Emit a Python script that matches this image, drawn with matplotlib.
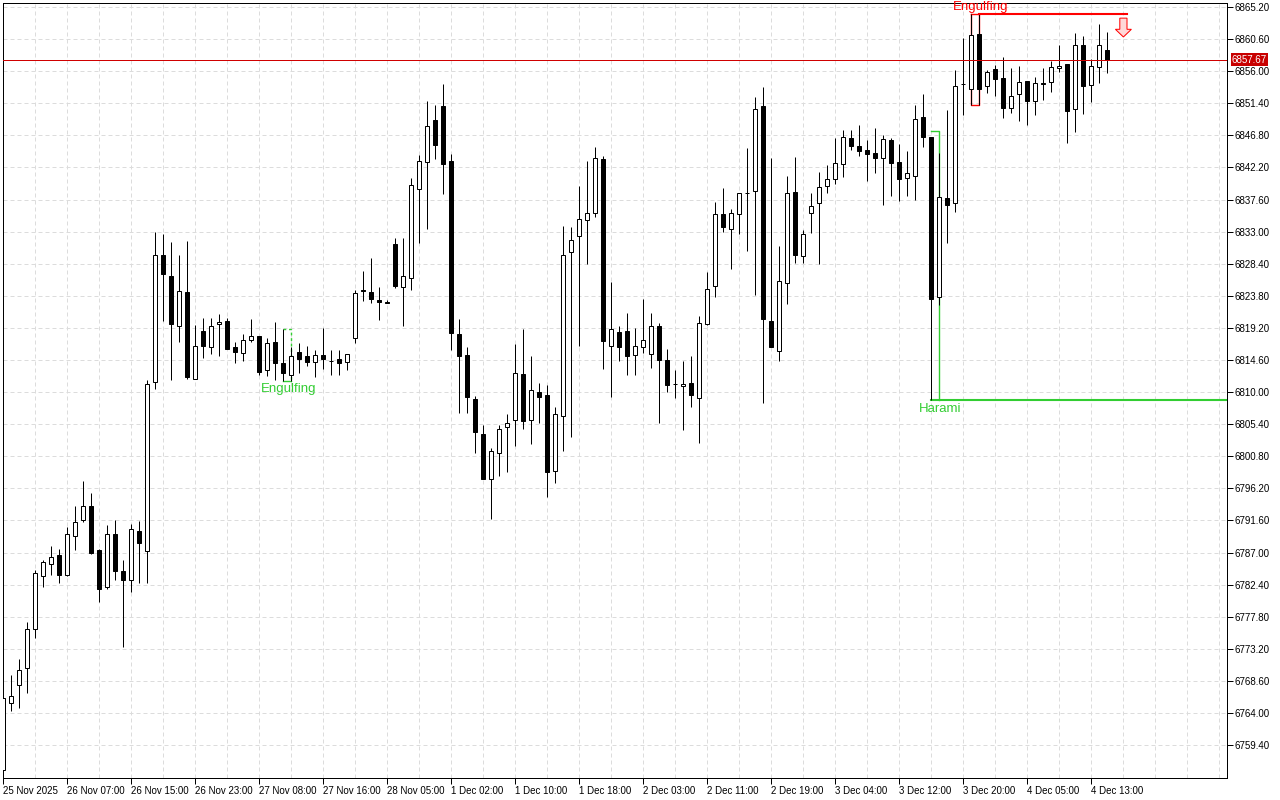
import numpy as np
import matplotlib
matplotlib.use('Agg')
import matplotlib.pyplot as plt
from matplotlib.patches import Polygon
from matplotlib.transforms import blended_transform_factory

plt.rcParams['font.family'] = ['Liberation Sans', 'DejaVu Sans']

# hourly OHLC, one value per bar
opens = [6755.8, 6765.4, 6768.0, 6770.4, 6776.0, 6783.7, 6785.4, 6786.7, 6783.8, 6789.4,
         6791.6, 6793.6, 6787.4, 6782.0, 6789.7, 6784.4, 6783.0, 6790.1, 6787.2, 6811.5,
         6829.7, 6826.6, 6819.4, 6824.3, 6811.9, 6818.8, 6816.5, 6819.8, 6820.2, 6816.5,
         6815.6, 6817.5, 6818.1, 6813.1, 6817.2, 6814.2, 6812.5, 6815.8, 6815.1, 6814.3,
         6815.3, 6814.5, 6814.8, 6814.3, 6817.8, 6824.6, 6824.4, 6823.2, 6822.9, 6831.2,
         6825.1, 6826.4, 6839.1, 6843.0, 6849.0, 6851.0, 6843.1, 6818.3, 6815.3, 6809.0,
         6804.0, 6797.6, 6801.3, 6805.0, 6806.0, 6812.6, 6806.0, 6810.0, 6809.6, 6798.7,
         6806.6, 6830.1, 6832.4, 6834.7, 6835.7, 6843.4, 6816.6, 6818.6, 6818.8, 6815.3,
         6816.5, 6815.5, 6819.4, 6814.6, 6811.2, 6810.9, 6811.3, 6809.2, 6819.8, 6825.2,
         6835.5, 6833.4, 6835.5, 6838.5, 6838.8, 6851.0, 6820.2, 6815.9, 6825.6, 6838.7,
         6829.5, 6835.7, 6837.1, 6839.5, 6840.5, 6842.7, 6846.4, 6845.3, 6844.7, 6844.3,
         6843.5, 6846.1, 6843.0, 6840.7, 6841.0, 6849.4, 6846.6, 6823.6, 6837.8, 6837.1,
         6854.2, 6853.4, 6861.3, 6853.9, 6856.3, 6855.0, 6850.7, 6852.7, 6854.6, 6851.7,
         6854.3, 6854.4, 6856.4, 6857.0, 6850.6, 6859.7, 6854.0, 6856.6, 6859.0]
highs = [6766.5, 6769.4, 6771.8, 6777.1, 6784.5, 6785.9, 6787.9, 6787.5, 6790.6, 6793.6,
         6797.2, 6795.5, 6787.5, 6790.9, 6791.6, 6785.9, 6791.1, 6791.5, 6811.8, 6833.0,
         6832.6, 6831.5, 6829.7, 6831.7, 6819.6, 6820.6, 6820.6, 6821.2, 6820.6, 6817.2,
         6818.3, 6820.5, 6818.1, 6817.8, 6820.1, 6819.1, 6816.5, 6817.1, 6816.6, 6816.1,
         6819.2, 6816.1, 6816.1, 6815.5, 6824.6, 6827.4, 6829.2, 6825.1, 6823.2, 6832.1,
         6832.1, 6840.7, 6844.0, 6851.7, 6851.1, 6854.1, 6844.1, 6820.5, 6816.5, 6809.5,
         6805.3, 6802.0, 6805.3, 6806.9, 6816.9, 6819.1, 6815.2, 6811.3, 6811.0, 6807.8,
         6833.8, 6833.7, 6839.5, 6843.1, 6845.1, 6843.8, 6825.8, 6819.5, 6821.4, 6819.2,
         6823.4, 6821.4, 6819.9, 6816.2, 6813.2, 6814.5, 6815.2, 6820.9, 6827.2, 6837.2,
         6839.2, 6836.2, 6838.6, 6845.0, 6852.3, 6853.7, 6843.5, 6830.9, 6841.0, 6843.7,
         6833.2, 6838.5, 6841.5, 6842.5, 6846.4, 6847.6, 6847.6, 6848.3, 6846.1, 6847.8,
         6846.8, 6846.4, 6845.5, 6844.5, 6851.1, 6852.7, 6846.6, 6844.3, 6850.4, 6856.1,
         6860.7, 6864.2, 6864.2, 6856.1, 6856.9, 6858.0, 6856.4, 6856.7, 6854.6, 6855.1,
         6856.4, 6857.4, 6859.7, 6857.0, 6861.4, 6861.0, 6857.7, 6862.7, 6861.6]
lows = [6755.3, 6764.3, 6764.7, 6766.8, 6774.7, 6782.1, 6783.8, 6782.6, 6783.7, 6787.4,
        6791.4, 6786.8, 6779.9, 6781.7, 6783.1, 6773.5, 6781.4, 6782.7, 6782.6, 6810.4,
        6820.2, 6811.7, 6817.2, 6811.9, 6811.9, 6814.9, 6815.5, 6815.1, 6816.2, 6814.1,
        6814.5, 6817.2, 6812.5, 6812.3, 6811.8, 6811.6, 6811.6, 6812.8, 6813.8, 6812.1,
        6813.3, 6812.5, 6812.5, 6813.2, 6817.1, 6823.1, 6822.8, 6820.4, 6822.8, 6824.9,
        6819.5, 6824.6, 6831.4, 6833.4, 6843.4, 6838.4, 6816.1, 6807.0, 6807.0, 6801.3,
        6797.5, 6791.8, 6798.0, 6798.6, 6802.3, 6804.7, 6802.5, 6805.6, 6794.9, 6796.9,
        6801.6, 6803.6, 6816.6, 6828.4, 6835.1, 6813.3, 6809.3, 6814.5, 6812.5, 6812.5,
        6815.6, 6813.5, 6805.6, 6810.0, 6809.2, 6804.6, 6807.9, 6802.7, 6819.6, 6823.6,
        6833.0, 6827.7, 6832.7, 6830.2, 6823.9, 6808.5, 6816.5, 6814.5, 6822.6, 6828.5,
        6828.5, 6832.8, 6828.4, 6838.5, 6839.8, 6840.9, 6844.7, 6843.8, 6840.3, 6841.4,
        6836.8, 6838.1, 6837.4, 6838.1, 6837.5, 6845.1, 6808.8, 6822.5, 6831.4, 6835.8,
        6849.7, 6851.1, 6851.1, 6852.9, 6852.4, 6849.3, 6850.0, 6848.8, 6848.3, 6849.7,
        6851.9, 6853.0, 6855.9, 6845.7, 6847.3, 6849.8, 6851.6, 6854.3, 6855.7]
closes = [6766.2, 6766.4, 6770.2, 6776.1, 6784.1, 6785.7, 6786.4, 6783.8, 6789.6, 6791.4,
          6793.7, 6786.9, 6781.7, 6789.7, 6784.4, 6783.1, 6790.4, 6788.4, 6811.2, 6829.6,
          6826.9, 6819.8, 6824.5, 6812.2, 6816.6, 6816.6, 6819.5, 6820.1, 6816.2, 6815.8,
          6817.5, 6818.1, 6812.9, 6817.1, 6814.2, 6812.8, 6815.1, 6814.8, 6814.3, 6815.3,
          6814.8, 6814.5, 6814.2, 6815.5, 6824.2, 6824.5, 6823.4, 6822.9, 6822.8, 6825.2,
          6826.6, 6839.7, 6843.1, 6848.1, 6845.4, 6842.7, 6818.5, 6815.1, 6809.3, 6804.3,
          6797.6, 6801.6, 6804.7, 6805.6, 6812.8, 6805.9, 6810.3, 6809.3, 6798.6, 6806.9,
          6829.6, 6831.8, 6834.8, 6835.7, 6843.5, 6817.3, 6819.1, 6816.5, 6815.2, 6816.6,
          6817.5, 6819.4, 6814.6, 6811.0, 6811.2, 6811.2, 6809.6, 6819.9, 6824.8, 6835.5,
          6833.7, 6835.7, 6838.6, 6838.5, 6850.6, 6820.5, 6816.5, 6825.9, 6838.5, 6829.7,
          6832.7, 6836.7, 6839.4, 6840.5, 6842.8, 6846.6, 6845.3, 6844.5, 6844.1, 6843.5,
          6846.3, 6842.8, 6840.5, 6841.4, 6849.1, 6846.6, 6823.4, 6838.0, 6836.8, 6853.9,
          6854.1, 6861.2, 6853.4, 6855.9, 6854.9, 6850.7, 6852.4, 6854.4, 6851.7, 6854.3,
          6854.2, 6856.6, 6856.7, 6850.3, 6859.7, 6853.9, 6856.7, 6859.7, 6857.67]

time_labels = ['25 Nov 2025', '26 Nov 07:00', '26 Nov 15:00', '26 Nov 23:00', '27 Nov 08:00',
               '27 Nov 16:00', '28 Nov 05:00', '1 Dec 02:00', '1 Dec 10:00', '1 Dec 18:00',
               '2 Dec 03:00', '2 Dec 11:00', '2 Dec 19:00', '3 Dec 04:00', '3 Dec 12:00',
               '3 Dec 20:00', '4 Dec 05:00', '4 Dec 13:00']

# candle patterns: (name, first bar, second bar)
pattern_bull_engulf = ('Engulfing', 35, 36)
pattern_harami = ('Harami', 116, 117)
pattern_bear_engulf = ('Engulfing', 121, 122)
harami_high = 6847.4

o = np.array(opens)
h = np.array(highs)
l = np.array(lows)
c = np.array(closes)
idx = np.arange(len(c))

GREEN = '#32cd32'
RED = '#ff0000'
PX = 0.72  # one pixel in points
XMAX = 152.95

fig = plt.figure(figsize=(12.8, 8), dpi=100)
ax = fig.add_axes([3 / 1280, 22 / 800, 1224 / 1280, 775 / 800])
ax.set_xlim(-0.05, XMAX)
ax.set_ylim(6754.68, 6865.77)

# grid
yticks = np.round(6759.4 + 4.6 * np.arange(24), 2)
for y in yticks:
    ax.axhline(y, color='#dcdcdc', lw=PX, ls=(0, (4, 3)), zorder=0)
for x in range(4, 153, 4):
    ax.axvline(x, color='#dcdcdc', lw=PX, ls=(0, (4, 3)), zorder=0)

# candles
ax.vlines(idx, l, h, color='black', lw=PX, zorder=2)
bull = c >= o
body_bot = np.minimum(o, c)
body_h = np.maximum(np.abs(c - o), 0.02)
ax.bar(idx, body_h, bottom=body_bot, width=0.5,
       color=np.where(bull, 'white', 'black'), edgecolor='black', lw=PX, zorder=3)

# current price line
last = c[-1]
ax.axhline(last, color='#d00000', lw=PX, zorder=4)
trans = blended_transform_factory(ax.transAxes, ax.transData)
ax.annotate(f'{last:.2f}', xy=(1.0, last), xycoords=trans, xytext=(3.5, 0),
            textcoords='offset points', ha='left', va='center', fontsize=7,
            color='white', annotation_clip=False,
            bbox=dict(boxstyle='square,pad=0.12', fc='#c80000', ec='none'))

# bullish engulfing (green)
_, a, b = pattern_bull_engulf
top_e = max(h[a], h[b])
bot_e = min(l[a], l[b])
ax.plot([a, b, b], [top_e, top_e, bot_e], color=GREEN, lw=1.0, ls=(0, (2, 2)), zorder=1)
ax.plot([a, b], [bot_e, bot_e], color=GREEN, lw=1.0, zorder=1)
ax.text((a + b) / 2 + 0.2, bot_e - 0.3, 'Engulfing', color=GREEN, fontsize=9.5,
        ha='center', va='top')

# harami (green), low level extended to the right
_, a, b = pattern_harami
bot_h = min(l[a], l[b])
ax.plot([a, b, b], [harami_high, harami_high, bot_h], color=GREEN, lw=1.0, zorder=1)
ax.plot([a, XMAX], [bot_h, bot_h], color=GREEN, lw=1.5, zorder=1)
ax.text(b + 0.1, bot_h - 0.3, 'Harami', color=GREEN, fontsize=9.5, ha='center', va='top')

# bearish engulfing (red), high level extended to the signal arrow
_, a, b = pattern_bear_engulf
top_b = max(h[a], h[b])
bot_b = min(l[a], l[b])
arrow_x = len(c) + 1
ax.plot([a, a, b, b], [top_b, bot_b, bot_b, top_b], color=RED, lw=1.0, zorder=1)
ax.plot([a, b], [top_b, top_b], color=RED, lw=1.0, zorder=1)
ax.plot([b, arrow_x + 0.4], [top_b, top_b], color=RED, lw=1.5, zorder=4)
ax.text(b + 0.1, top_b + 0.15, 'Engulfing', color=RED, fontsize=9.5, ha='center',
        va='bottom', clip_on=False)

# sell arrow
ay0 = top_b - 0.6
arrow = Polygon([(arrow_x - 0.45, ay0), (arrow_x + 0.45, ay0), (arrow_x + 0.45, ay0 - 1.6),
                 (arrow_x + 1.0, ay0 - 1.6), (arrow_x, ay0 - 2.7), (arrow_x - 1.0, ay0 - 1.6),
                 (arrow_x - 0.45, ay0 - 1.6)],
                closed=True, fc='#ffd8d8', ec=RED, lw=PX, zorder=5)
ax.add_patch(arrow)

# axes
for s in ax.spines.values():
    s.set_color('black')
    s.set_linewidth(PX)
ax.yaxis.tick_right()
ax.set_yticks(yticks)
ax.set_yticklabels([f'{v:.2f}' for v in yticks])
ax.set_xticks(np.arange(0, len(time_labels) * 8, 8))
ax.set_xticklabels(time_labels, ha='left')
ax.tick_params(axis='both', labelsize=7, length=4, width=PX, color='black', pad=1.5)
ax.tick_params(axis='x', pad=2)

fig.savefig('out.png', dpi=100, facecolor='white')
